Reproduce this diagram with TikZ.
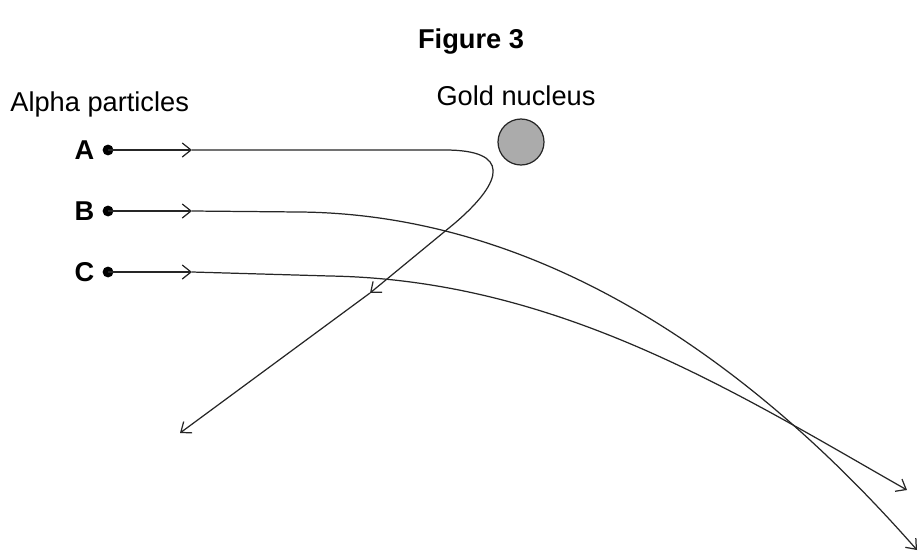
\documentclass[tikz,border=0pt]{standalone}
\usepackage{fontspec}
\setmainfont{Liberation Sans}
\usetikzlibrary{arrows.meta}

\tikzset{
  track/.style={draw=black!85, line width=0.7pt},
  tip/.style={-{Straight Barb[length=5pt,width=8pt]}},
  particle/.style={circle, fill=black, inner sep=0pt, minimum size=6.2pt},
  lbl/.style={font=\fontsize{15.5}{18}\selectfont},
}

\begin{document}
\begin{tikzpicture}[x=0.02cm, y=-0.02cm]
  \useasboundingbox (0,0) rectangle (918,552);

  \node[lbl, font=\fontsize{15.5}{18}\selectfont\bfseries] (title) at (471,42) {Figure 3};
  \node[lbl, anchor=west, inner sep=0pt] (alpha) at (10,104) {Alpha particles};
  \node[lbl] (goldlbl) at (516,96) {Gold nucleus};
  \node[circle, draw=black!85, fill=black!33, line width=0.7pt, minimum size=0.92cm, inner sep=0pt] (gold) at (521,142) {};

  % particles
  \node[particle, label={[lbl, font=\fontsize{15.5}{18}\selectfont\bfseries, xshift=-1pt]left:A}] (a) at (108,150) {};
  \node[particle, label={[lbl, font=\fontsize{15.5}{18}\selectfont\bfseries, xshift=-1pt]left:B}] (b) at (108,211) {};
  \node[particle, label={[lbl, font=\fontsize{15.5}{18}\selectfont\bfseries, xshift=-1pt]left:C}] (c) at (108,272) {};

  \coordinate (amid) at (192,150);
  \coordinate (bmid) at (192,211);
  \coordinate (cmid) at (192,272);
  \coordinate (aturn) at (455,223);
  \coordinate (aback) at (370,293);
  \coordinate (aend) at (180,433);
  \coordinate (bend) at (917,550);
  \coordinate (cend) at (907,490);

  % path A: bounced back
  \draw[track, tip] (a.center) -- (amid);
  \draw[track] (amid) -- (445,150) .. controls (510,150) and (505,180) .. (aturn);
  \draw[track, tip] (aturn) -- (aback);
  \draw[track, tip] (aback) -- (aend);

  % path B
  \draw[track, tip] (b.center) -- (bmid);
  \draw[track, tip] (bmid) -- (300,212) .. controls (600,215) and (820,440) .. (bend);

  % path C
  \draw[track, tip] (c.center) -- (cmid);
  \draw[track, tip] (cmid) -- (330,276) .. controls (560,280) and (740,395) .. (cend);
\end{tikzpicture}
\end{document}
